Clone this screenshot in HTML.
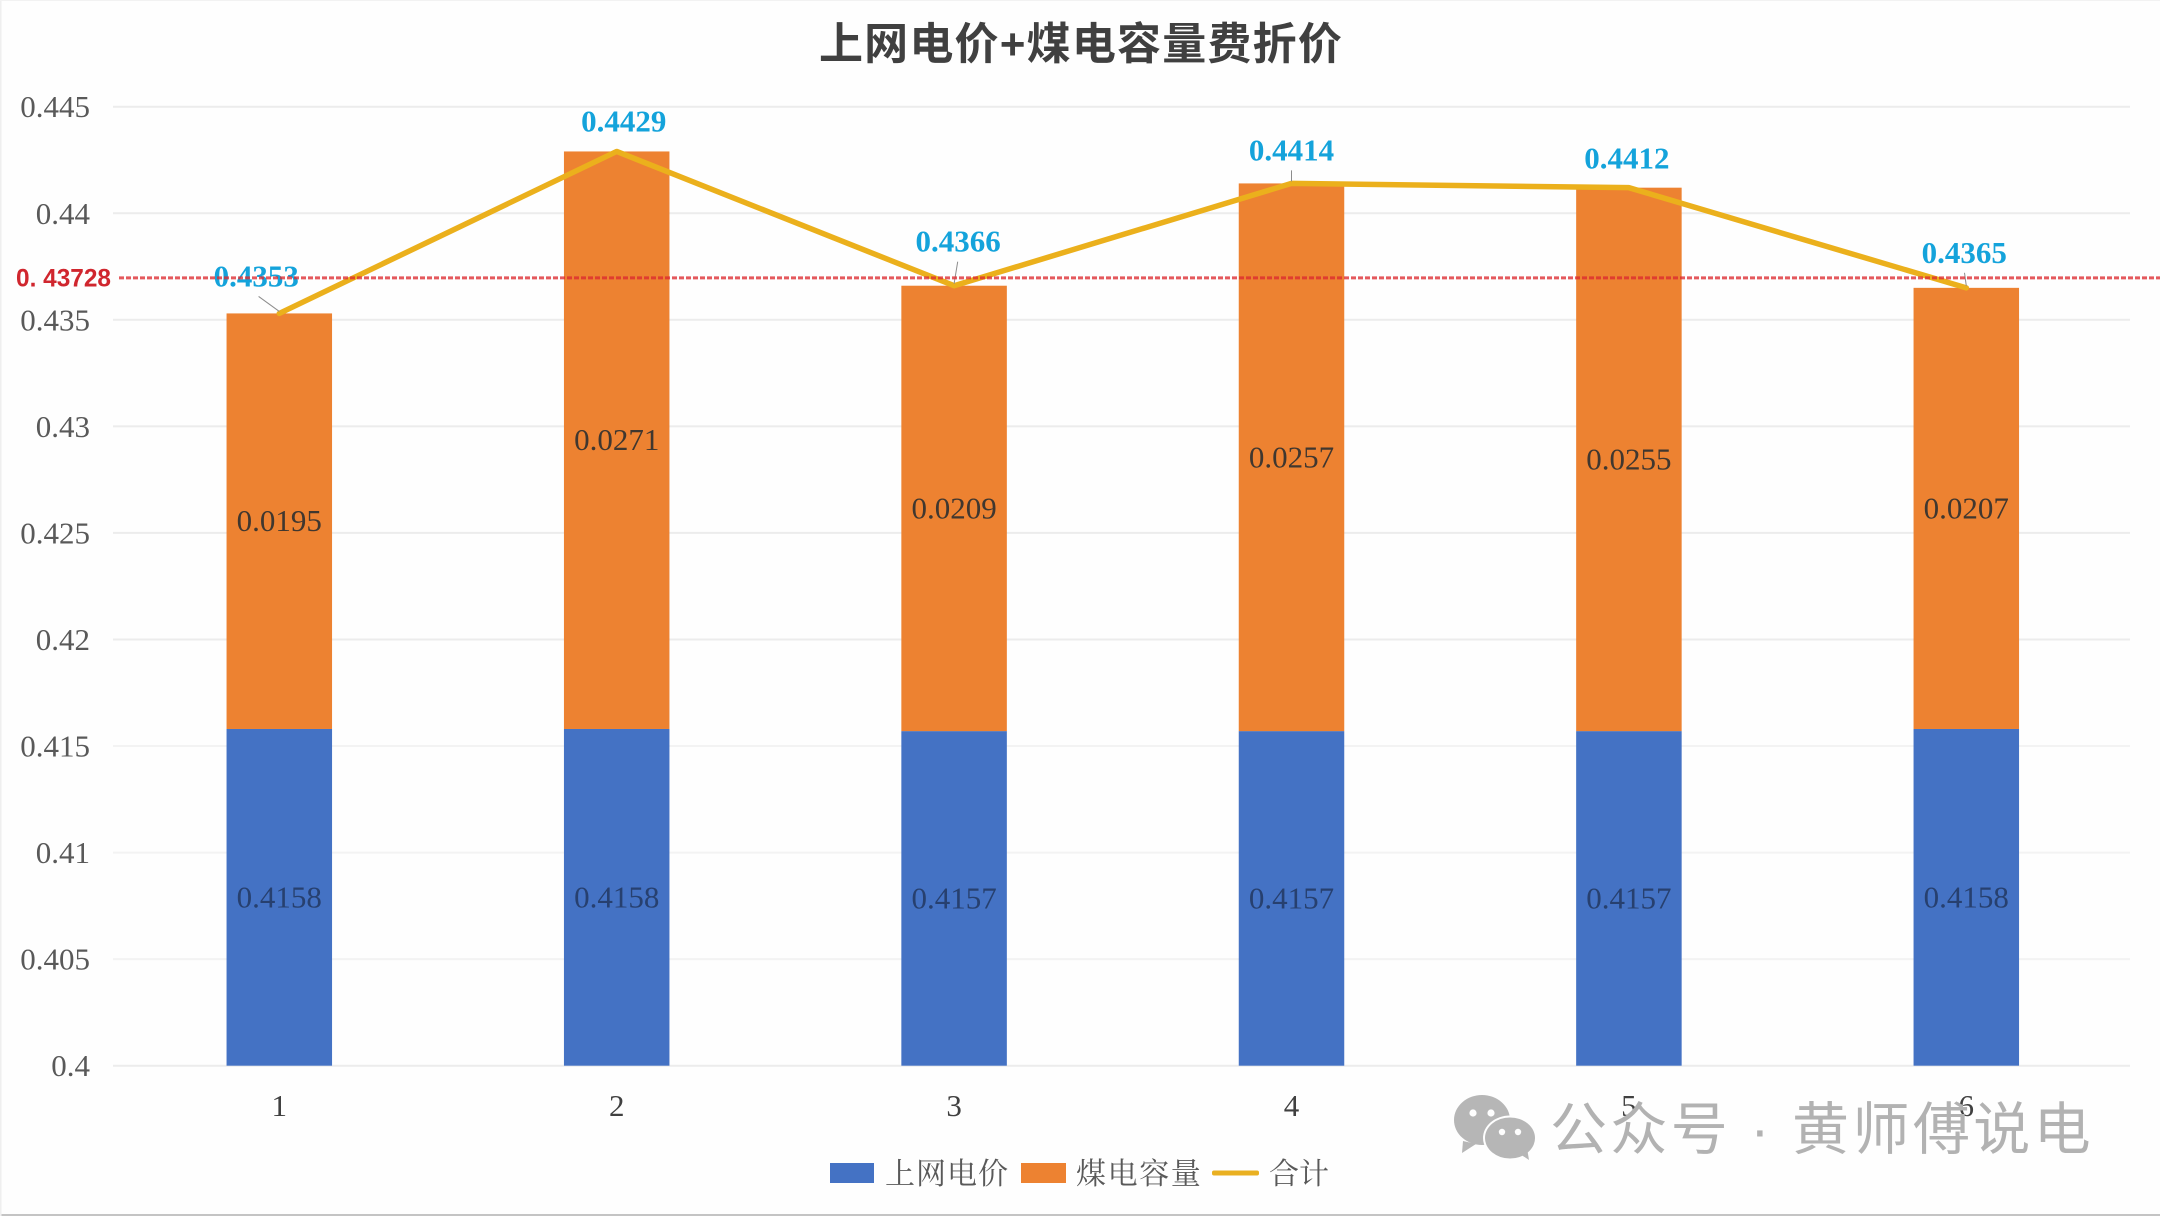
<!DOCTYPE html>
<html lang="zh-CN">
<head>
<meta charset="utf-8">
<title>上网电价+煤电容量费折价</title>
<style>
html,body{margin:0;padding:0;background:#fefefe;}
body{width:2160px;height:1216px;overflow:hidden;}
svg{display:block;}
.serif{font-family:"Liberation Serif","Noto Serif CJK SC",serif;}
.cjk{font-family:"Liberation Serif","Noto Serif CJK SC",serif;}
</style>
</head>
<body>
<svg id="chart" width="2160" height="1216" viewBox="0 0 2160 1216" xmlns="http://www.w3.org/2000/svg">
  <rect x="0" y="0" width="2160" height="1216" fill="#fefefe"/>
  <rect x="0" y="1214" width="2160" height="2" fill="#c4c4c4"/>
  <rect x="0" y="0" width="1.5" height="1216" fill="#efefef"/>
  <rect x="0" y="0" width="2160" height="1" fill="#f2f2f2"/>
  <text x="1081" y="59" text-anchor="middle" font-family="'Liberation Sans','Noto Sans CJK SC',sans-serif" font-weight="700" font-size="44" letter-spacing="1.2" fill="#404040">上网电价+煤电容量费折价</text>
  <g id="grid"></g>
  <g id="yaxis"></g>
  <g id="xaxis"></g>
  <g id="bars"></g>
  <g id="segment-labels"></g>
  <g id="line-layer"></g>
  <g id="total-labels"></g>
  <g id="ref-layer"></g>

  <g>
    <g>
      <rect x="830" y="1163" width="44" height="20" fill="#4472C4"/>
      <text class="cjk" x="885" y="1184" font-size="30" letter-spacing="1" fill="#595959">上网电价</text>
    </g>
    <g>
      <rect x="1021" y="1163" width="45" height="20" fill="#ED8231"/>
      <text class="cjk" x="1076" y="1184" font-size="30" letter-spacing="1.6" fill="#595959">煤电容量</text>
    </g>
    <g>
      <rect x="1212" y="1170.5" width="47" height="5" rx="2" fill="#E9B021"/>
      <text class="cjk" x="1269" y="1184" font-size="30" letter-spacing="0" fill="#595959">合计</text>
    </g>
  </g>

  <g>
    <g>
      <path d="M1463 1141 L1462 1153 L1476 1144 Z" fill="#b6b6b6"/>
      <ellipse cx="1482" cy="1120" rx="28" ry="25" fill="#b6b6b6"/>
      <circle cx="1473" cy="1113" r="3.6" fill="#fefefe"/>
      <circle cx="1491" cy="1113" r="3.6" fill="#fefefe"/>
      <ellipse cx="1510" cy="1138" rx="27" ry="22.5" fill="#fefefe"/>
      <path d="M1517 1152 L1529 1160 L1527 1148 Z" fill="#b6b6b6"/>
      <ellipse cx="1510" cy="1138" rx="25" ry="20.5" fill="#b6b6b6"/>
      <circle cx="1502" cy="1132" r="3.2" fill="#fefefe"/>
      <circle cx="1518" cy="1132" r="3.2" fill="#fefefe"/>
    </g>
    <text x="1550" y="1149" font-family="'Liberation Sans','Noto Sans CJK SC',sans-serif" font-size="57" letter-spacing="3.4" fill="#b2b2b2" xml:space="preserve">公众号 · 黄师傅说电</text>
  </g>
</svg>

<script>
// ---- chart data ----
const categories = ['1', '2', '3', '4', '5', '6'];
const gridPrice = [0.4158, 0.4158, 0.4157, 0.4157, 0.4157, 0.4158];
const coalCapacity = [0.0195, 0.0271, 0.0209, 0.0257, 0.0255, 0.0207];
const totals = [0.4353, 0.4429, 0.4366, 0.4414, 0.4412, 0.4365];
const yTicks = ['0.4', '0.405', '0.41', '0.415', '0.42', '0.425', '0.43', '0.435', '0.44', '0.445'];
const referenceLevel = 0.43697;
const referenceLabel = '0. 43728';

// ---- layout ----
const NS = 'http://www.w3.org/2000/svg';
const yMin = 0.4, yMax = 0.445;
const yBottom = 1065.7, yTop = 106.7;
const xStart = 110.6, bandW = 337.4, barW = 105.5;
const gridLeft = 113, gridRight = 2130;
function yScale(v) { return yBottom - (v - yMin) / (yMax - yMin) * (yBottom - yTop); }
function xScale(i) { return xStart + bandW * (i + 0.5); }
// hand-placed label nudges from the source chart, in px relative to each point
const totalLabelNudge = [[-23, -27], [7, -20], [4, -34], [0, -23], [-2, -19], [-2, -25]];
// only these points carry a leader line in the source chart
const hasLeader = [true, false, true, true, false, true];

function mk(tag, attrs, parent, text) {
  const el = document.createElementNS(NS, tag);
  for (const k in attrs) el.setAttribute(k, attrs[k]);
  if (text !== undefined) el.textContent = text;
  parent.appendChild(el);
  return el;
}
const gridG = document.getElementById('grid');
const yG = document.getElementById('yaxis');
const xG = document.getElementById('xaxis');
const barsG = document.getElementById('bars');
const segG = document.getElementById('segment-labels');
const lineG = document.getElementById('line-layer');
const totG = document.getElementById('total-labels');
const refG = document.getElementById('ref-layer');

yTicks.forEach(function (t) {
  const v = parseFloat(t);
  const y = yScale(v);
  const g = mk('line', { x1: gridLeft, x2: gridRight, y1: y, y2: y, stroke: v >= 0.42 || v === 0.4 ? '#ececec' : '#f3f3f3', 'stroke-width': 2 }, gridG);
  
  
  const l = mk('text', { x: 90, y: y + 10.5, 'text-anchor': 'end', 'font-size': 31, fill: '#595959', class: 'serif' }, yG, t);
  
  
});

categories.forEach(function (c, i) {
  const cx = xScale(i);
  const l = mk('text', { x: cx, y: 1116, 'text-anchor': 'middle', 'font-size': 31, fill: '#404040', class: 'serif' }, xG, c);
  
  

  const blueTop = yScale(gridPrice[i]);
  const orangeTop = yScale(gridPrice[i] + coalCapacity[i]);
  const blue = mk('rect', { x: cx - barW / 2, y: blueTop, width: barW, height: yBottom - blueTop, fill: '#4472C4' }, barsG);
  
  
  const orange = mk('rect', { x: cx - barW / 2, y: orangeTop, width: barW, height: blueTop - orangeTop, fill: '#ED8231' }, barsG);
  
  

  const bl = mk('text', { x: cx, y: (blueTop + yBottom) / 2 + 10, 'text-anchor': 'middle', 'font-size': 31, fill: '#27406f', class: 'serif' }, segG, gridPrice[i].toFixed(4));
  
  
  const ol = mk('text', { x: cx, y: (orangeTop + blueTop) / 2 + 10, 'text-anchor': 'middle', 'font-size': 31, fill: '#40372f', class: 'serif' }, segG, coalCapacity[i].toFixed(4));
  
  
});

const pts = totals.map(function (v, i) { return xScale(i) + ',' + yScale(v); }).join(' ');
const totalLine = mk('polyline', { points: pts, fill: 'none', stroke: '#EBB01C', 'stroke-width': 5.5, 'stroke-linejoin': 'round', 'stroke-linecap': 'round' }, lineG);



totals.forEach(function (v, i) {
  const cx = xScale(i), py = yScale(v);
  const dx = totalLabelNudge[i][0], dy = totalLabelNudge[i][1];
  if (hasLeader[i]) {
    const leader = mk('line', { x1: cx + dx * 0.9, y1: py + dy + 10, x2: cx, y2: py - 2, stroke: '#8c8c8c', 'stroke-width': 1 }, totG);
    
    
  }
  const t = mk('text', { x: cx + dx, y: py + dy, 'text-anchor': 'middle', 'font-size': 31, 'font-weight': 700, fill: '#14A3DB', class: 'serif' }, totG, v.toFixed(4));
  
  
});

const refY = yScale(referenceLevel);
const refLine = mk('line', { x1: 119, x2: 2160, y1: refY, y2: refY, stroke: '#dc2a30', 'stroke-opacity': 0.78, 'stroke-width': 3, 'stroke-dasharray': '5 2' }, refG);


const refText = mk('text', { x: 16, y: refY + 8.5, 'font-size': 25, 'font-weight': 700, fill: '#d0262e', textLength: 95, lengthAdjust: 'spacingAndGlyphs', 'font-family': '"Liberation Sans",sans-serif' }, refG, referenceLabel);


</script>
</body>
</html>
